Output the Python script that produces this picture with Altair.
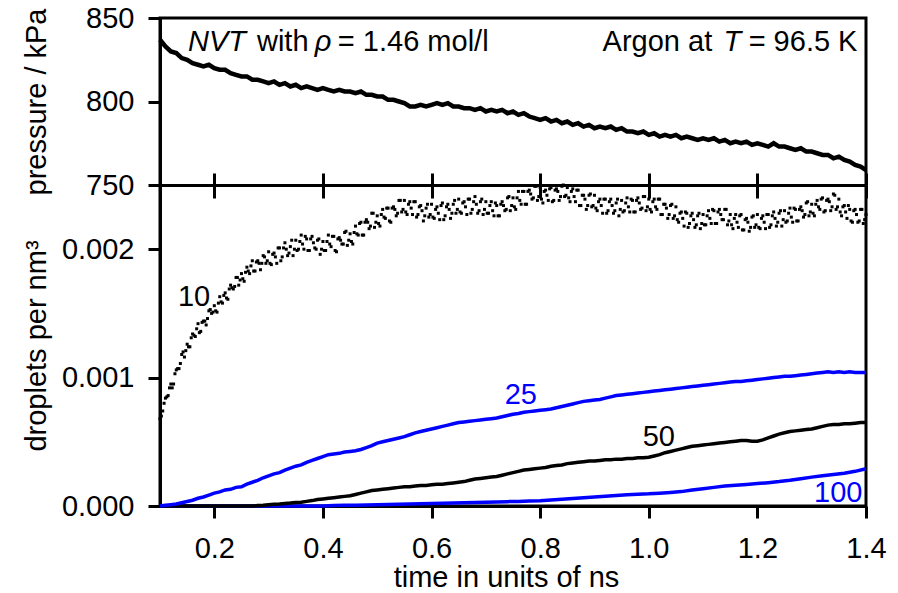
import altair as alt
import pandas as pd

# ---------------- data ----------------
# pressure in kPa, t = 0.10 ... 1.40 ns in steps of 0.01
pressure_kpa = [
    837, 833, 830, 829, 826, 825, 823, 822, 821, 822,
    820, 819, 819, 817, 816, 815, 815, 813, 813, 812,
    811, 812, 810, 811, 809, 810, 808, 809, 808, 807,
    808, 807, 806, 807, 806, 806, 805, 806, 804, 804,
    803, 803, 801, 801, 800, 799, 797, 797, 798, 797,
    798, 799, 798, 799, 797, 797, 796, 796, 795, 796,
    794, 795, 794, 795, 793, 794, 792, 793, 791, 790,
    789, 790, 788, 789, 787, 788, 786, 787, 785, 786,
    784, 785, 784, 785, 783, 784, 782, 782, 781, 782,
    780, 781, 779, 780, 779, 780, 778, 779, 778, 777,
    778, 777, 778, 776, 777, 775, 776, 775, 776, 774,
    775, 774, 773, 775, 773, 773, 772, 771, 772, 770,
    770, 769, 768, 768, 766, 767, 765, 764, 762, 761,
    759,
]
t_01 = [round(0.10 + 0.01 * i, 2) for i in range(131)]

# droplets of size >= 10 (scatter), in 1e-5 per nm^3
# set A: t = 0.100 ... 1.400 step 0.005
drop10_a = [
    68, 74, 84, 86, 95, 95, 106, 107, 118, 116,
    126, 124, 134, 132, 142, 136, 144, 141, 152, 150,
    156, 151, 163, 158, 166, 161, 172, 169, 178, 172,
    181, 175, 186, 181, 191, 183, 191, 184, 195, 189,
    198, 188, 197, 189, 201, 194, 205, 195, 202, 195,
    207, 200, 211, 200, 208, 199, 210, 201, 207, 196,
    206, 199, 211, 202, 210, 198, 209, 204, 213, 203,
    212, 204, 218, 211, 221, 211, 223, 216, 228, 217,
    226, 218, 231, 224, 232, 221, 233, 226, 238, 229,
    238, 227, 237, 227, 237, 227, 234, 222, 232, 225,
    235, 224, 233, 223, 236, 226, 235, 224, 235, 228,
    239, 228, 237, 227, 239, 231, 241, 228, 237, 227,
    237, 228, 237, 226, 234, 226, 237, 230, 240, 230,
    240, 231, 245, 235, 245, 235, 246, 239, 249, 238,
    248, 236, 246, 238, 248, 238, 247, 238, 249, 241,
    248, 237, 247, 237, 246, 234, 242, 231, 242, 233,
    242, 230, 239, 228, 239, 230, 239, 228, 236, 226,
    238, 230, 240, 229, 238, 229, 240, 231, 241, 230,
    239, 229, 239, 231, 239, 227, 235, 224, 234, 224,
    233, 221, 229, 218, 228, 220, 228, 217, 226, 216,
    227, 219, 230, 220, 230, 220, 231, 223, 231, 219,
    227, 216, 227, 217, 227, 215, 224, 214, 225, 217,
    227, 216, 226, 216, 227, 219, 229, 218, 228, 218,
    230, 222, 232, 221, 231, 222, 233, 225, 236, 226,
    235, 226, 238, 231, 240, 230, 239, 230, 243, 231,
    239, 226, 234, 224, 231, 221, 231, 221, 231, 220,
    227,
]
t_a = [round(0.100 + 0.005 * i, 4) for i in range(261)]
# set B: t = 0.1025 ... 1.3975 step 0.005
drop10_b = [
    70, 80, 85, 92, 92, 103, 107, 111, 120, 121,
    124, 131, 133, 138, 135, 143, 144, 146, 153, 151,
    152, 158, 159, 164, 162, 169, 170, 171, 178, 176,
    177, 182, 183, 187, 183, 190, 189, 189, 194, 191,
    189, 196, 194, 201, 191, 201, 200, 197, 207, 200,
    199, 206, 204, 210, 199, 208, 205, 200, 208, 200,
    199, 206, 204, 210, 199, 208, 207, 204, 214, 207,
    206, 213, 212, 220, 211, 221, 221, 218, 228, 221,
    220, 227, 225, 232, 222, 232, 231, 228, 238, 231,
    229, 235, 232, 237, 225, 233, 230, 226, 235, 227,
    225, 231, 228, 234, 223, 233, 231, 228, 238, 231,
    229, 236, 233, 239, 228, 237, 235, 230, 239, 231,
    228, 234, 230, 236, 226, 235, 234, 231, 241, 234,
    233, 240, 238, 245, 235, 245, 243, 240, 249, 241,
    239, 245, 242, 247, 237, 246, 245, 241, 250, 242,
    240, 245, 241, 246, 234, 242, 239, 234, 243, 234,
    232, 237, 234, 239, 228, 237, 234, 230, 239, 231,
    229, 236, 233, 239, 229, 238, 236, 232, 241, 233,
    231, 237, 233, 239, 227, 235, 232, 227, 235, 226,
    223, 228, 224, 229, 217, 226, 223, 219, 228, 220,
    219, 226, 224, 231, 220, 229, 227, 223, 231, 222,
    219, 224, 221, 226, 215, 223, 221, 217, 226, 219,
    217, 224, 221, 227, 217, 226, 224, 221, 230, 223,
    221, 228, 225, 232, 222, 231, 230, 227, 237, 229,
    228, 235, 233, 239, 229, 238, 237, 233, 242, 233,
    229, 233, 229, 234, 222, 230, 227, 222, 231, 223,
]
t_b = [round(0.1025 + 0.005 * i, 4) for i in range(260)]

# size >= 25, 1e-5 per nm^3, step 0.01
drop25 = [
    0, 0.5, 1, 1.5, 2.5, 3.5, 4.5, 6, 7, 8.5,
    10, 11, 12.5, 13, 14.5, 15, 17, 18.5, 20, 22,
    23.5, 25, 26, 28, 29.5, 31, 32, 34, 35.5, 37,
    38.5, 40, 40.5, 41, 42, 42.5, 43, 44, 45.5, 47,
    49, 50, 51, 52, 53, 54, 55.5, 57, 58, 59,
    60, 61, 62, 63, 64, 65, 65.5, 66, 66.5, 67,
    67.5, 68, 68.5, 69.5, 70.5, 71.5, 72, 73, 73.5, 74,
    74.5, 75, 75.5, 76.5, 77.5, 78.5, 79.5, 80.5, 81.5, 82,
    82.5, 83, 84, 85, 86, 86.5, 87, 87.5, 88, 88.5,
    89, 89.5, 90, 90.5, 91, 91.5, 92, 92.5, 93, 93.5,
    94, 94.5, 95, 95.5, 96, 96.5, 97, 97, 97.5, 98,
    98.5, 99, 99.5, 100, 100.5, 101, 101, 101.5, 102, 102.5,
    103, 103.5, 104, 104.5, 104, 104.5, 104, 104.5, 104, 104,
    104,
]
# size >= 50, step 0.01
drop50 = [
    0, 0, 0, 0, 0, 0, 0, 0, 0, 0,
    0, 0, 0, 0, 0, 0, 0, 0, 0.3, 0.6,
    1, 1.3, 1.6, 2, 2.3, 2.7, 3, 3.6, 4.2, 5,
    5.5, 6, 6.5, 7, 7.5, 8, 9, 10, 11, 12,
    12.5, 13, 13.5, 14, 14.5, 15, 15, 15.5, 16, 16,
    16.5, 17, 17, 17.5, 18, 18.5, 19, 20, 21, 21.5,
    22, 22.5, 23, 24, 25, 26, 27, 28, 28.5, 29,
    29.5, 30, 31, 31.5, 32, 33, 33.5, 34, 34.5, 35,
    35, 35.5, 36, 36, 36.5, 36.5, 37, 37, 37.5, 37.5,
    38, 39, 40, 41.5, 42.5, 43.5, 44.5, 45.5, 46.5, 47,
    47.5, 48, 48.5, 49, 49.5, 50, 50.5, 51, 51, 50.5,
    50.5, 51.5, 53, 54.5, 56, 57, 58, 58.5, 59, 59.5,
    60, 61, 62, 63, 63.5, 63.5, 64, 64, 64.5, 65,
    65,
]
# size >= 100, step 0.02
drop100 = [
    0, 0, 0, 0, 0, 0, 0, 0, 0, 0, 0, 0, 0, 0, 0, 0,
    0.3, 0.5, 0.6, 0.8, 1, 1.2, 1.4, 1.6, 1.8, 2,
    2.2, 2.4, 2.6, 2.8, 3, 3.2, 3.4, 3.6, 3.8, 4,
    4.6, 5.2, 5.8, 6.4, 7, 7.6, 8.2, 8.8, 9.2, 9.5,
    10, 10.6, 11.2, 12.4, 13.5, 14.5, 15.5, 16.2, 16.8, 17.5,
    18.2, 19, 20, 21.2, 22.5, 23.5, 24.5, 25.5, 27, 29,
]
t_02 = [round(0.10 + 0.02 * i, 2) for i in range(66)]

x_ticks = [0.2, 0.4, 0.6, 0.8, 1.0, 1.2, 1.4]
p_ticks = [750, 800, 850]
d_ticks = [0.0, 0.001, 0.002]

BLUE = "#0000ff"
FONT = "Liberation Sans"
FS = 29

# ---------------- tables ----------------
df_p = pd.DataFrame({"t": t_01, "p": pressure_kpa})
df_10 = pd.concat([
    pd.DataFrame({"t": t_a, "d": [v * 1e-5 for v in drop10_a]}),
    pd.DataFrame({"t": t_b, "d": [v * 1e-5 for v in drop10_b]}),
])
df_lines = pd.concat([
    pd.DataFrame({"t": t_02, "d": [v * 1e-5 for v in drop100], "s": "100"}),
    pd.DataFrame({"t": t_01, "d": [v * 1e-5 for v in drop50], "s": "50"}),
    pd.DataFrame({"t": t_01, "d": [v * 1e-5 for v in drop25], "s": "25"}),
])

# annotations in the pressure panel (segments: italic / normal)
ann_top = pd.DataFrame({
    "t": [0.1515, 0.2785, 0.385, 0.4275, 0.915, 1.1377, 1.3843],
    "p": [830] * 7,
    "txt": ["NVT", "with", "\u03c1", "= 1.46 mol/l", "Argon at", "T", "= 96.5 K"],
    "style": ["italic", "normal", "italic", "normal", "normal", "italic", "normal"],
    "align": ["left", "left", "left", "left", "left", "left", "right"],
})
ann_curves = pd.DataFrame({
    "t": [0.1331, 0.7348, 0.9887, 1.3935],
    "d": [0.001557, 0.000793, 0.000465, 0.0000288],
    "txt": ["10", "25", "50", "100"],
    "col": ["black", BLUE, "black", BLUE],
    "align": ["left", "left", "left", "right"],
})

# ---------------- scales ----------------
XS = alt.Scale(domain=[0.1, 1.4], nice=False, zero=False)
YP = alt.Scale(domain=[750, 850], range=[167, 0], nice=False, zero=False)
YD = alt.Scale(domain=[0, 0.0025], range=[488, 167], nice=False, zero=False)

# ---------------- layers ----------------
pressure = alt.Chart(df_p).mark_line(color="black", strokeWidth=4.5).encode(
    x=alt.X("t:Q", scale=XS, axis=alt.Axis(orient="top", offset=-167, labels=False,
                                           title=None, values=x_ticks, tickSize=12)),
    y=alt.Y("p:Q", scale=YP, axis=alt.Axis(orient="left", values=p_ticks, title="pressure / kPa",
                                           labelPadding=14, titleX=-115,
                                           titleBaseline="alphabetic", labelFlush=False)),
)

lines = alt.Chart(df_lines).mark_line(strokeWidth=3.5).encode(
    x=alt.X("t:Q", scale=XS, axis=alt.Axis(orient="bottom", offset=-321, labels=False,
                                           title=None, values=x_ticks, tickSize=13)),
    y=alt.Y("d:Q", scale=YD, axis=None),
    color=alt.Color("s:N", scale=alt.Scale(domain=["100", "50", "25"],
                                           range=[BLUE, "black", BLUE]), legend=None),
    detail="s:N",
)

dots = alt.Chart(df_10).mark_square(color="black", size=9, opacity=1).encode(
    x=alt.X("t:Q", scale=XS, axis=alt.Axis(orient="bottom", values=x_ticks, format=".1f",
                                           title="time in units of ns", labelPadding=16,
                                           labelFlush=False, titleX=346, titleY=80,
                                           titleBaseline="alphabetic")),
    y=alt.Y("d:Q", scale=YD, axis=alt.Axis(orient="left", values=d_ticks, format=".3f",
                                           title="droplets per nm\u00b3", labelPadding=14,
                                           titleX=-115, titleBaseline="alphabetic",
                                           labelFlush=False)),
)

def top_text(style, align):
    sub = ann_top[(ann_top["style"] == style) & (ann_top["align"] == align)]
    return alt.Chart(sub).mark_text(font=FONT, fontSize=FS, fontStyle=style, align=align,
                                    baseline="alphabetic", color="black").encode(
        x=alt.X("t:Q", scale=XS, axis=None),
        y=alt.Y("p:Q", scale=YP, axis=None),
        text="txt:N",
    )

def curve_text(align):
    sub = ann_curves[ann_curves["align"] == align]
    return alt.Chart(sub).mark_text(font=FONT, fontSize=FS, align=align,
                                    baseline="alphabetic").encode(
        x=alt.X("t:Q", scale=XS, axis=None),
        y=alt.Y("d:Q", scale=YD, axis=None),
        text="txt:N",
        color=alt.Color("col:N", scale=None),
    )

chart = alt.layer(
    pressure, lines, dots,
    top_text("italic", "left"), top_text("normal", "left"), top_text("normal", "right"),
    curve_text("left"), curve_text("right"),
).resolve_scale(y="independent").resolve_axis(x="independent", y="independent").properties(
    width=706, height=488,
    padding={"left": 152, "top": 10, "right": 24, "bottom": 87},
    autosize=alt.AutoSizeParams(type="none"),
).configure_view(stroke="black", strokeWidth=3).configure_axis(
    domainColor="black", domainWidth=3, tickColor="black", tickWidth=3, tickSize=12,
    labelColor="black", labelFont=FONT, labelFontSize=FS, titleFont=FONT,
    titleFontSize=FS, titleFontWeight="normal", titleColor="black", grid=False,
    labelOverlap=False,
)

chart.save("out.html", embed_options={"renderer": "svg", "actions": False})
